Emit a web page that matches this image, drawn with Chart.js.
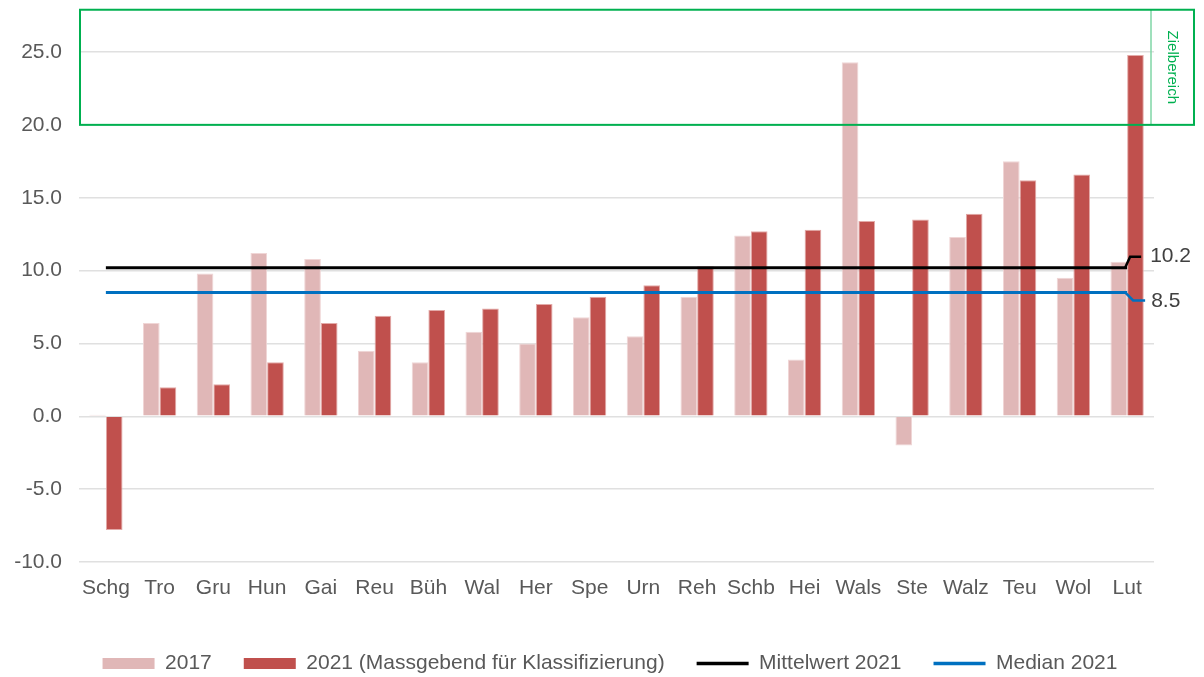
<!DOCTYPE html>
<html>
<head>
<meta charset="utf-8">
<script src="https://cdn.jsdelivr.net/npm/chart.js@4.4.1/dist/chart.umd.min.js"></script>
<style>
  html, body { margin: 0; padding: 0; background: #ffffff; }
  #wrap { width: 1204px; height: 677px; position: relative; }
</style>
</head>
<body>
<div id="wrap"><canvas id="c" width="1204" height="677"></canvas></div>
<script>
const categories = ["Schg","Tro","Gru","Hun","Gai","Reu","Büh","Wal","Her","Spe","Urn","Reh","Schb","Hei","Wals","Ste","Walz","Teu","Wol","Lut"];
const values2017 = [0.1, 6.4, 9.8, 11.2, 10.8, 4.5, 3.7, 5.8, 5.0, 6.8, 5.5, 8.2, 12.4, 3.9, 24.3, -2.0, 12.3, 17.5, 9.5, 10.6];
const values2021 = [-7.8, 2.0, 2.2, 3.7, 6.4, 6.9, 7.3, 7.4, 7.7, 8.2, 9.0, 10.3, 12.7, 12.8, 13.4, 13.5, 13.9, 16.2, 16.6, 24.8];
const mean2021 = 10.2;
const median2021 = 8.5;
const yTicks = [-10, -5, 0, 5, 10, 15, 20, 25];
const targetFrom = 20;
const targetTo = 27.9;
const targetLabel = "Zielbereich";
const seriesNames = ["2017", "2021 (Massgebend für Klassifizierung)", "Mittelwert 2021", "Median 2021"];

const FONT = "'Liberation Sans', Arial, sans-serif";

const overlayPlugin = {
  id: 'overlay',
  afterLayout(chart) {
    // nudge the legend block to the right (reference alignment)
    if (chart.legend) {
      chart.legend.left += 33;
      chart.legend.right += 33;
    }
  },
  afterDatasetsDraw(chart) {
    const {ctx, chartArea, scales: {x, y}} = chart;
    ctx.save();
    // target zone box
    const top = y.getPixelForValue(targetTo);
    const bottom = y.getPixelForValue(targetFrom);
    const left = chartArea.left + 1;
    const right = chart.width - 10;
    ctx.strokeStyle = '#7fd6a6';
    ctx.lineWidth = 1.5;
    ctx.beginPath();
    ctx.moveTo(chartArea.right - 3, top);
    ctx.lineTo(chartArea.right - 3, bottom);
    ctx.stroke();
    ctx.strokeStyle = '#00b050';
    ctx.lineWidth = 2;
    ctx.strokeRect(left, top, right - left, bottom - top);
    ctx.fillStyle = '#00b050';
    ctx.font = "15px " + FONT;
    ctx.textAlign = 'center';
    ctx.textBaseline = 'middle';
    ctx.translate((chartArea.right - 3 + right) / 2, (top + bottom) / 2);
    ctx.rotate(Math.PI / 2);
    ctx.fillText(targetLabel, 0, 0);
    ctx.restore();

    // leader tails and value labels
    const xLast = x.getPixelForValue(categories.length - 1);
    const yMean = y.getPixelForValue(mean2021);
    const yMed = y.getPixelForValue(median2021);
    ctx.save();
    ctx.lineWidth = 2.5;
    ctx.strokeStyle = '#000000';
    ctx.beginPath();
    ctx.moveTo(xLast - 2, yMean);
    ctx.lineTo(xLast + 3, yMean - 11);
    ctx.lineTo(xLast + 14, yMean - 11);
    ctx.stroke();
    ctx.strokeStyle = '#0070c0';
    ctx.beginPath();
    ctx.moveTo(xLast - 2, yMed);
    ctx.lineTo(xLast + 6, yMed + 8);
    ctx.lineTo(xLast + 18, yMed + 8);
    ctx.stroke();
    ctx.fillStyle = '#404040';
    ctx.font = "21px " + FONT;
    ctx.textAlign = 'left';
    ctx.textBaseline = 'middle';
    ctx.fillText(mean2021.toFixed(1), xLast + 23, yMean - 11);
    ctx.fillText(median2021.toFixed(1), xLast + 24, yMed + 9);
    ctx.restore();
  }
};

new Chart(document.getElementById('c'), {
  data: {
    labels: categories,
    datasets: [
      {
        type: 'bar', label: seriesNames[0], data: values2017,
        backgroundColor: '#e0b7b7', borderColor: '#f0d6d6', borderWidth: 1,
        order: 2, categoryPercentage: 0.62, barPercentage: 1.0
      },
      {
        type: 'bar', label: seriesNames[1], data: values2021,
        backgroundColor: '#c0504d', borderColor: '#e3aaa8', borderWidth: 1,
        order: 2, categoryPercentage: 0.62, barPercentage: 1.0
      },
      {
        type: 'line', label: seriesNames[2], data: categories.map(() => mean2021),
        borderColor: '#000000', backgroundColor: '#000000', borderWidth: 3,
        pointRadius: 0, order: 0
      },
      {
        type: 'line', label: seriesNames[3], data: categories.map(() => median2021),
        borderColor: '#0070c0', backgroundColor: '#0070c0', borderWidth: 3,
        pointRadius: 0, order: 0
      }
    ]
  },
  options: {
    responsive: false,
    animation: false,
    layout: { padding: { top: 52, right: 50, left: 0, bottom: -7 } },
    plugins: {
      tooltip: { enabled: false },
      legend: {
        position: 'bottom',
        labels: {
          usePointStyle: true,
          pointStyleWidth: 52,
          boxWidth: 52,
          boxHeight: 11,
          padding: 32,
          color: '#595959',
          font: { family: FONT, size: 21 },
          sort: (a, b) => a.datasetIndex - b.datasetIndex,
          generateLabels(chart) {
            return chart.data.datasets.map((ds, i) => ({
              text: ds.label,
              datasetIndex: i,
              fillStyle: ds.type === 'bar' ? ds.backgroundColor : ds.borderColor,
              strokeStyle: ds.type === 'bar' ? ds.backgroundColor : ds.borderColor,
              lineWidth: ds.type === 'bar' ? 0 : 3.5,
              pointStyle: ds.type === 'bar' ? 'rect' : 'line',
              fontColor: '#595959',
              hidden: false
            }));
          }
        }
      }
    },
    scales: {
      x: {
        grid: { display: false, drawTicks: false },
        border: { display: false },
        ticks: { color: '#595959', font: { family: FONT, size: 21 }, padding: 14, maxRotation: 0, autoSkip: false },
        afterFit(scale) { scale.height = 59; }
      },
      y: {
        min: yTicks[0], max: yTicks[yTicks.length - 1],
        afterBuildTicks(scale) { scale.ticks = yTicks.map(v => ({ value: v })); },
        grid: { color: '#e0e0e0', lineWidth: 1.5, drawTicks: false },
        border: { display: false },
        ticks: { color: '#595959', font: { family: FONT, size: 21 }, padding: 17, callback: v => Number(v).toFixed(1) },
        afterFit(scale) { scale.width = 79; }
      }
    }
  },
  plugins: [overlayPlugin]
});
</script>
</body>
</html>
